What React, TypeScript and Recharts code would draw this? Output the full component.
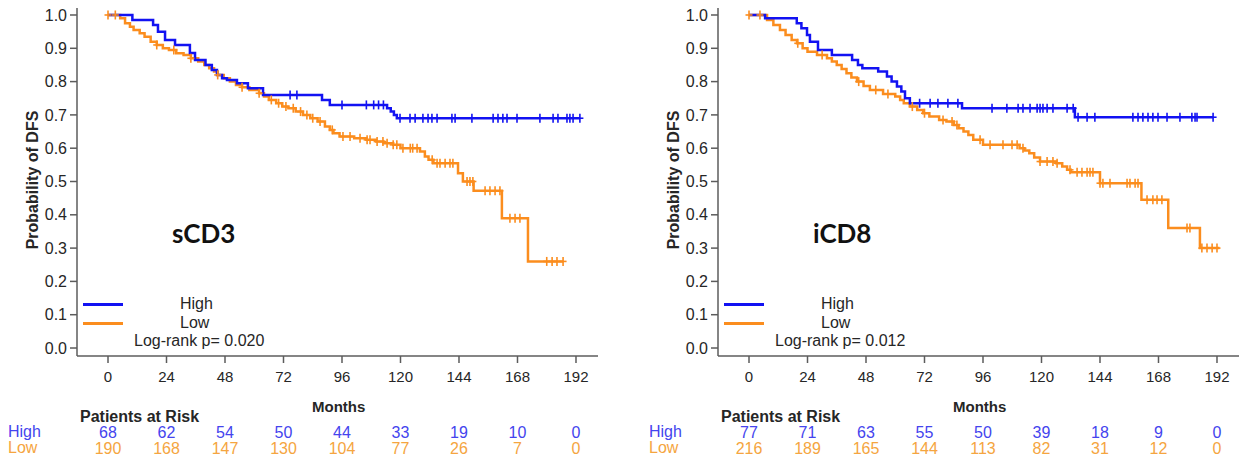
import React from "react";
import { ComposedChart, Line, Scatter, XAxis, YAxis } from "recharts";

// axis ticks
const months = [0, 24, 48, 72, 96, 120, 144, 168, 192];
const probTicks = [0, 0.1, 0.2, 0.3, 0.4, 0.5, 0.6, 0.7, 0.8, 0.9, 1.0];

// sCD3 — Kaplan-Meier steps [month, survival]
const sHighSteps: [number, number][] = [
  [0, 1], [10, 0.985], [18.5, 0.97], [20.5, 0.95], [23.4, 0.925], [27.5, 0.91],
  [33.6, 0.886], [35.7, 0.865], [40, 0.85], [42.6, 0.835], [44.7, 0.82], [46.8, 0.81],
  [48.8, 0.805], [52.9, 0.795], [57.4, 0.78], [63.6, 0.76], [87.8, 0.745], [91, 0.73],
  [114.5, 0.72], [116, 0.71], [117.3, 0.7], [118.5, 0.69], [193.6, 0.69],
];
const sLowSteps: [number, number][] = [
  [0, 1], [5, 0.99], [7, 0.975], [9, 0.965], [10.5, 0.955], [13, 0.945], [15, 0.935],
  [17.5, 0.92], [20, 0.91], [22.5, 0.9], [25, 0.895], [28, 0.885], [31, 0.88], [34, 0.87],
  [37, 0.86], [39.5, 0.85], [41.5, 0.84], [43.5, 0.83], [45, 0.82], [47.5, 0.81], [50, 0.8],
  [52.5, 0.79], [55, 0.783], [58, 0.775], [62, 0.765], [64, 0.755], [66, 0.745], [69, 0.735],
  [71.5, 0.725], [74, 0.72], [77, 0.71], [80, 0.7], [83, 0.69], [86, 0.68], [89, 0.665],
  [91, 0.655], [92.5, 0.645], [95, 0.635], [101, 0.63], [106, 0.625], [110, 0.62],
  [113, 0.615], [117, 0.61], [120, 0.6], [128, 0.59], [130, 0.575], [131.5, 0.565],
  [133.5, 0.555], [143.6, 0.525], [145.6, 0.5], [150, 0.472], [161.6, 0.39], [172.3, 0.26],
  [186.7, 0.26],
];
const sHighCensor = [
  74.7, 77.5, 96, 106, 109, 111, 113, 119.8, 123.9, 126, 129.2, 131.3, 132.9, 135, 141.1,
  142.4, 149.3, 158, 160, 162, 163.7, 167.8, 177.2, 182.6, 184.6, 188.3, 189.5, 190.8, 193.6,
];
const sLowCensor = [
  0, 3, 20, 27, 34, 45, 55, 62, 67, 70, 73, 76, 79, 81.6, 84, 87, 92, 96.4, 99.3, 103.4,
  106.3, 107.5, 110.4, 112.8, 114.5, 117, 118.5, 121, 124, 125, 126.8, 133, 135, 136.2,
  138.3, 140.3, 141.5, 147.3, 148.5, 149.7, 154.7, 156.7, 158.8, 160.8, 164.9, 167, 169,
  180, 182.2, 184.2, 186.7,
];
const sHighRisk = [68, 62, 54, 50, 44, 33, 19, 10, 0];
const sLowRisk = [190, 168, 147, 130, 104, 77, 26, 7, 0];

// iCD8
const iHighSteps: [number, number][] = [
  [0, 1], [6.6, 0.99], [19.6, 0.975], [21.5, 0.96], [23.8, 0.94], [25, 0.92], [28.3, 0.895],
  [34, 0.88], [42.3, 0.865], [44.7, 0.85], [46.5, 0.84], [53, 0.83], [56.6, 0.815],
  [58.5, 0.8], [60.7, 0.785], [62.5, 0.77], [64, 0.75], [66, 0.735], [87.4, 0.72],
  [133.7, 0.693], [190.4, 0.693],
];
const iLowSteps: [number, number][] = [
  [0, 1], [7.4, 0.985], [10, 0.97], [12.7, 0.955], [15, 0.94], [17.5, 0.925], [19.7, 0.915],
  [22, 0.9], [24, 0.89], [27.9, 0.88], [32, 0.87], [34, 0.86], [36, 0.85], [38, 0.838],
  [40, 0.825], [42, 0.812], [44.3, 0.8], [47, 0.787], [49.6, 0.775], [55, 0.763], [60, 0.755],
  [62, 0.745], [63.5, 0.735], [66, 0.725], [69, 0.715], [71.5, 0.705], [74, 0.695],
  [78, 0.685], [81, 0.68], [84, 0.67], [86, 0.66], [88, 0.65], [90, 0.64], [92, 0.625],
  [96, 0.61], [111, 0.6], [113, 0.593], [115, 0.585], [117, 0.572], [119.4, 0.56],
  [126, 0.555], [128.5, 0.545], [130.5, 0.535], [132, 0.528], [144, 0.495], [161, 0.445],
  [172, 0.36], [185, 0.3], [193, 0.3],
];
const iHighCensor = [
  70, 74.3, 77.5, 81.6, 85.7, 99.7, 105.8, 110.4, 112.4, 115.3, 118.2, 119.4, 120.6, 122.3,
  124.7, 130.5, 133, 135, 138.7, 141.9, 157.5, 159.6, 161.6, 163.7, 165.7, 167.8, 171.5,
  176.8, 181.7, 183, 183.8, 190.4,
];
const iLowCensor = [
  0, 4.5, 20, 30, 45, 52, 57, 67, 72, 79.6, 83.3, 85.3, 94.8, 98.9, 104.2, 107.9, 110, 112.4,
  119.4, 122.3, 124.7, 126.4, 131.7, 134.6, 136.6, 138.7, 139.9, 141.1, 144, 145.2, 148.1,
  155.1, 156.3, 158.4, 159.6, 163.3, 165.7, 167.4, 169.4, 179.7, 180.9, 185.8, 187.9, 190, 192,
];
const iHighRisk = [77, 71, 63, 55, 50, 39, 18, 9, 0];
const iLowRisk = [216, 189, 165, 144, 113, 82, 31, 12, 0];

const BLUE = "#1212f2";
const ORANGE = "#fb8d1e";
const RISK_BLUE = "#4444ee";
const RISK_ORANGE = "#f5a540";
const AXIS = "#5c5c5c";
const TEXT = "#262626";
const FONT = "'Liberation Sans', Arial, sans-serif";

const toPoints = (steps: [number, number][]) => steps.map(([t, s]) => ({ t, s }));

// survival value of the step curve at time t
const survAt = (steps: [number, number][], t: number) => {
  let s = steps[0][1];
  for (const [tt, ss] of steps) if (tt <= t) s = ss;
  return s;
};
const censorPoints = (steps: [number, number][], times: number[]) =>
  times.map((t) => ({ t, s: survAt(steps, t) }));

function CensorMark({ cx, cy, color }: any) {
  if (cx == null || cy == null) return null;
  return (
    <g stroke={color} strokeWidth={1.6}>
      <line x1={cx} y1={cy - 4.5} x2={cx} y2={cy + 4.5} />
      <line x1={cx - 3.5} y1={cy} x2={cx + 3.5} y2={cy} />
    </g>
  );
}

function RiskTick({ x, y, payload, high, low }: any) {
  const i = months.indexOf(payload.value);
  return (
    <g fontFamily={FONT} textAnchor="middle">
      <text x={x} y={y + 19} fontSize={15} fill={TEXT}>
        {payload.value}
      </text>
      <text x={x} y={y + 75} fontSize={16} fill={RISK_BLUE}>
        {high[i]}
      </text>
      <text x={x} y={y + 91} fontSize={16} fill={RISK_ORANGE}>
        {low[i]}
      </text>
    </g>
  );
}

const txt = (left: number, cy: number, extra: any = {}): React.CSSProperties => ({
  position: "absolute",
  left,
  top: cy - 10,
  lineHeight: "20px",
  whiteSpace: "nowrap",
  fontFamily: FONT,
  fontSize: 16,
  color: TEXT,
  ...extra,
});

function KmPanel({ left, name, pText, highSteps, lowSteps, highCensor, lowCensor, highRisk, lowRisk }: any) {
  return (
    <div style={{ position: "absolute", left, top: 0, width: 615, height: 462 }}>
      <ComposedChart width={615} height={462} margin={{ top: 8, right: 17, bottom: 76, left: 0 }}>
        <XAxis
          type="number"
          dataKey="t"
          domain={[-12.72, 201.03]}
          allowDataOverflow
          ticks={months}
          interval={0}
          height={30}
          tickSize={7}
          tickMargin={0}
          stroke={AXIS}
          strokeWidth={1.5}
          tick={(p: any) => <RiskTick {...p} high={highRisk} low={lowRisk} />}
        />
        <YAxis
          type="number"
          domain={[-0.024, 1.021]}
          allowDataOverflow
          ticks={probTicks}
          interval={0}
          width={77}
          tickSize={7}
          tickMargin={3}
          stroke={AXIS}
          strokeWidth={1.5}
          tickFormatter={(v: number) => v.toFixed(1)}
          tick={{ fontSize: 16, fill: TEXT, fontFamily: FONT }}
        />
        <Line data={toPoints(lowSteps)} dataKey="s" type="stepAfter" stroke={ORANGE} strokeWidth={2.5} dot={false} isAnimationActive={false} />
        <Line data={toPoints(highSteps)} dataKey="s" type="stepAfter" stroke={BLUE} strokeWidth={2.5} dot={false} isAnimationActive={false} />
        <Scatter data={censorPoints(lowSteps, lowCensor)} dataKey="s" isAnimationActive={false} shape={(p: any) => <CensorMark {...p} color={ORANGE} />} />
        <Scatter data={censorPoints(highSteps, highCensor)} dataKey="s" isAnimationActive={false} shape={(p: any) => <CensorMark {...p} color={BLUE} />} />
      </ComposedChart>

      {/* y label */}
      <div style={txt(33 - 90, 180, { width: 180, textAlign: "center", fontWeight: 700, fontSize: 16, transform: "rotate(-90deg)" })}>
        Probability of DFS
      </div>

      <div style={txt(172, 233, { fontFamily: "Lato, 'Open Sans', sans-serif", fontWeight: 700, fontSize: 26, color: "#111", lineHeight: "30px", top: 218 })}>
        {name}
      </div>

      {/* legend */}
      <div style={{ position: "absolute", left: 83, top: 302.5, width: 40, height: 3, background: BLUE }} />
      <div style={{ position: "absolute", left: 83, top: 321.5, width: 40, height: 3, background: ORANGE }} />
      <div style={txt(180, 304)}>High</div>
      <div style={txt(180, 323)}>Low</div>
      <div style={txt(134, 341)}>{pText}</div>

      <div style={txt(312, 407, { fontWeight: 700, fontSize: 15 })}>Months</div>
      <div style={txt(80, 417, { fontWeight: 700, fontSize: 16, lineHeight: "18px", top: 408 })}>Patients at Risk</div>
      <div style={txt(8, 432, { fontSize: 16, color: RISK_BLUE, lineHeight: "16px", top: 424 })}>High</div>
      <div style={txt(8, 448, { fontSize: 16, color: RISK_ORANGE, lineHeight: "16px", top: 440 })}>Low</div>
    </div>
  );
}

export default function App() {
  return (
    <div style={{ position: "absolute", left: 0, top: 0, width: 1256, height: 462, background: "#fff", overflow: "hidden" }}>
      <KmPanel
        left={0}
        name="sCD3"
        pText="Log-rank p= 0.020"
        highSteps={sHighSteps}
        lowSteps={sLowSteps}
        highCensor={sHighCensor}
        lowCensor={sLowCensor}
        highRisk={sHighRisk}
        lowRisk={sLowRisk}
      />
      <KmPanel
        left={641}
        name="iCD8"
        pText="Log-rank p= 0.012"
        highSteps={iHighSteps}
        lowSteps={iLowSteps}
        highCensor={iHighCensor}
        lowCensor={iLowCensor}
        highRisk={iHighRisk}
        lowRisk={iLowRisk}
      />
    </div>
  );
}
